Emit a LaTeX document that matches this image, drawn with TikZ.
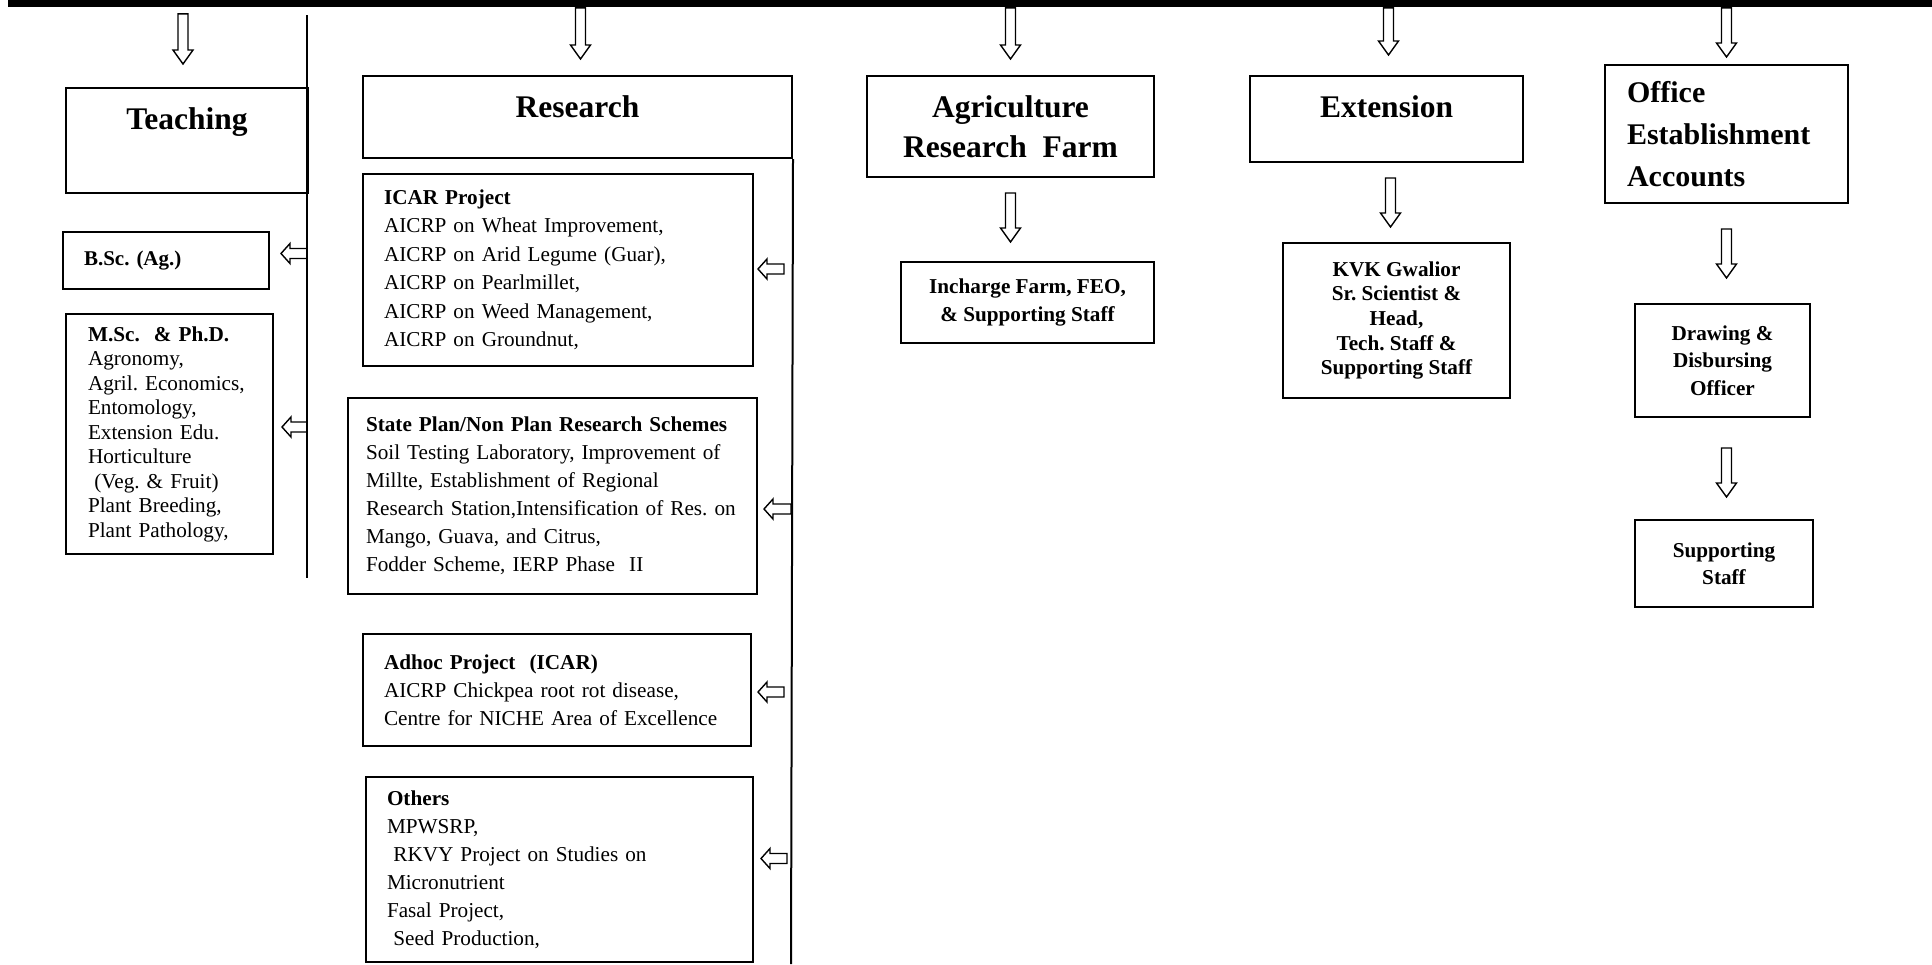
\documentclass[tikz,border=0pt]{standalone}
\usepackage{fontspec}
\setmainfont{Liberation Serif}
\usetikzlibrary{calc}
\frenchspacing

% hollow block arrows: start point, tip point
\newcommand{\hollowdown}[2]{%
  \draw[arrowline] let \p1=(#1), \p2=(#2) in
    (\x1-2.5pt,\y1) -- (\x1-2.5pt,\y2+7pt) -- (\x1-5pt,\y2+7pt) -- (\x1,\y2)
    -- (\x1+5pt,\y2+7pt) -- (\x1+2.5pt,\y2+7pt) -- (\x1+2.5pt,\y1) -- cycle;}
\newcommand{\hollowleft}[2]{%
  \draw[arrowline] let \p1=(#1), \p2=(#2) in
    (\x1,\y1+2.5pt) -- (\x2+4.5pt,\y1+2.5pt) -- (\x2+4.5pt,\y1+5pt) -- (\x2,\y1)
    -- (\x2+4.5pt,\y1-5pt) -- (\x2+4.5pt,\y1-2.5pt) -- (\x1,\y1-2.5pt) -- cycle;}

\begin{document}
\begin{tikzpicture}[x=0.5pt,y=-0.5pt]
        \tikzstyle{box}=[draw=black,line width=1pt,rectangle,anchor=north west,inner sep=0pt]
        \tikzstyle{head}=[box,font=\bfseries\fontsize{15.75}{20}\selectfont]
        \tikzstyle{list}=[box,align=left,inner xsep=10.5pt,font=\fontsize{10.6}{14.25}\selectfont]
        \tikzstyle{staffbox}=[box,align=center,font=\bfseries\fontsize{10.6}{12.35}\selectfont]
        \tikzstyle{arrowline}=[draw=black,line width=0.7pt,line join=miter]
        \tikzstyle{vline}=[draw=black,line width=1pt]
        \useasboundingbox (0,0) rectangle (1932,964);

        \node [fill=black,inner sep=0pt,anchor=north west,minimum width=962pt,minimum height=3.5pt] (bar) at (8,0) {};

        % teaching
        \node [head,minimum width=121pt,text height=20.5pt,text depth=32pt] (teach) at (65,87) {Teaching};
        \node [list,text width=82pt,minimum height=28.5pt,font=\bfseries\fontsize{10.5}{12}\selectfont] (bsc) at (62,231) {B.Sc. (Ag.)};
        \node [list,text width=81.5pt,inner xsep=11pt,minimum height=120pt,font=\fontsize{10.6}{12.25}\selectfont] (msc) at (65,313)
          {\textbf{M.Sc.\ \ \& Ph.D.}\\Agronomy,\\Agril. Economics,\\Entomology,\\Extension Edu.\\Horticulture\\\hspace*{0.3em}(Veg. \& Fruit)\\Plant Breeding,\\Plant Pathology,};
        \coordinate (tl) at (307,15);
        \coordinate (tb) at (307,578);

        % research
        \node [head,minimum width=214.5pt,text height=20.5pt,text depth=20.5pt] (res) at (362,75) {Research};
        \node [list,text width=174pt,minimum height=96pt] (icar) at (362,173)
          {\textbf{ICAR Project}\\AICRP on Wheat Improvement,\\AICRP on Arid Legume (Guar),\\AICRP on Pearlmillet,\\AICRP on Weed Management,\\AICRP on Groundnut,};
        \node [list,text width=186.5pt,inner xsep=9pt,minimum height=98pt,font=\fontsize{10.6}{14}\selectfont] (state) at (347,397)
          {\textbf{State Plan/Non Plan Research Schemes}\\Soil Testing Laboratory, Improvement of\\Millte, Establishment of Regional\\Research Station,Intensification of Res. on\\Mango, Guava, and Citrus,\\Fodder Scheme, IERP Phase\ \ II};
        \node [list,text width=173pt,minimum height=56pt,font=\fontsize{10.6}{14}\selectfont] (adhoc) at (362,633)
          {\textbf{Adhoc Project\ \ (ICAR)}\\AICRP Chickpea root rot disease,\\Centre for NICHE Area of Excellence};
        \node [list,text width=172.5pt,minimum height=92.5pt,font=\fontsize{10.6}{14}\selectfont] (others) at (365,776)
          {\textbf{Others}\\MPWSRP,\\\hspace*{0.3em}RKVY Project on Studies on\\Micronutrient\\Fasal Project,\\\hspace*{0.3em}Seed Production,};
        \coordinate (rb) at (791,964);

        % farm
        \node [box,align=center,minimum width=143.5pt,minimum height=50.5pt,font=\bfseries\fontsize{15.75}{20}\selectfont] (farm) at (866,75) {Agriculture\\Research\ \ Farm};
        \node [staffbox,minimum width=126.5pt,minimum height=40.5pt,font=\bfseries\fontsize{10.6}{14}\selectfont] (incharge) at (900,261) {Incharge Farm, FEO,\\\& Supporting Staff};

        % extension
        \node [head,minimum width=136.5pt,text height=20.5pt,text depth=22.5pt] (ext) at (1249,75) {Extension};
        \node [staffbox,minimum width=113.5pt,minimum height=77.5pt] (kvk) at (1282,242) {KVK Gwalior\\Sr. Scientist \&\\Head,\\Tech. Staff \&\\Supporting Staff};

        % office
        \node [box,align=left,text width=99.5pt,inner xsep=11pt,minimum height=69pt,font=\bfseries\fontsize{15}{21}\selectfont] (office) at (1604,64) {Office\\Establishment\\Accounts};
        \node [staffbox,minimum width=87.5pt,minimum height=56.5pt,font=\bfseries\fontsize{10.6}{13.75}\selectfont] (ddo) at (1634,303) {Drawing \&\\Disbursing\\Officer};
        \node [staffbox,minimum width=89pt,minimum height=43.5pt,font=\bfseries\fontsize{10.6}{13.5}\selectfont] (staff) at (1634,519) {Supporting\\Staff};

        % lines
        \path[vline] (tl) -- (tb);
        \path[vline] (res.south east) -- (rb);

        % arrows from the bar
        \hollowdown{$(teach.north |- bar.south)+(-4,6)$}{$(teach.north)+(-4,-23)$}
        \hollowdown{$(res.north |- bar.south)+(3,0)$}{$(res.north)+(3,-16)$}
        \hollowdown{farm.north |- bar.south}{$(farm.north)+(0,-16)$}
        \hollowdown{$(ext.north |- bar.south)+(2,0)$}{$(ext.north)+(2,-20)$}
        \hollowdown{office.north |- bar.south}{$(office.north)+(0,-7)$}

        % arrows down to staff
        \hollowdown{$(farm.south)+(0,15)$}{$(farm.south |- incharge.north)+(0,-19)$}
        \hollowdown{$(ext.south)+(4,15)$}{$(ext.south |- kvk.north)+(4,-15)$}
        \hollowdown{$(office.south)+(0,25)$}{$(office.south |- ddo.north)+(0,-25)$}
        \hollowdown{$(office.south |- ddo.south)+(0,30)$}{$(office.south |- staff.north)+(0,-22)$}

        % arrows to the sub boxes
        \hollowleft{$(bsc.east -| tl)+(0,-7)$}{$(bsc.east)+(11,-7)$}
        \hollowleft{$(msc.east -| tl)+(0,-7)$}{$(msc.east)+(8,-7)$}
        \hollowleft{$(icar.east -| rb)+(-7,-1)$}{$(icar.east)+(4,-1)$}
        \hollowleft{$(state.east -| rb)+(0,13)$}{$(state.east)+(6,13)$}
        \hollowleft{$(adhoc.east -| rb)+(-7,2)$}{$(adhoc.east)+(6,2)$}
        \hollowleft{$(others.east -| rb)+(-4,-11)$}{$(others.east)+(7,-11)$}
\end{tikzpicture}
\end{document}
